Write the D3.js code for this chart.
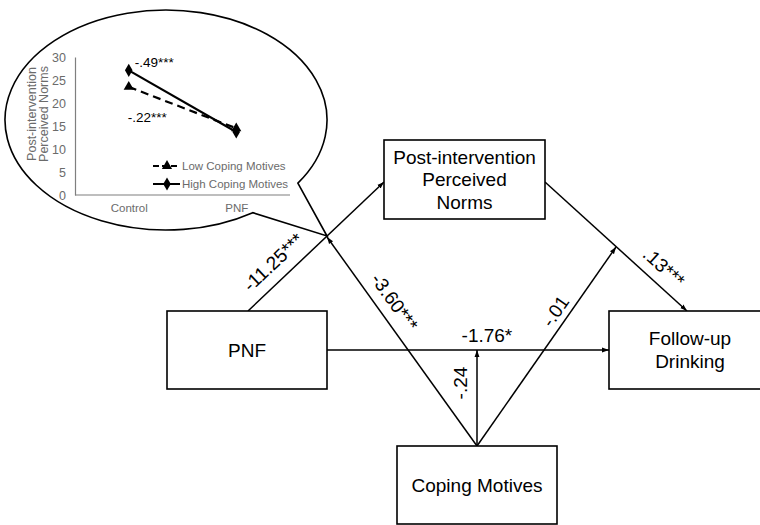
<!DOCTYPE html>
<html><head><meta charset="utf-8">
<script src="https://cdn.jsdelivr.net/npm/d3@7"></script>
<style>
html,body{margin:0;padding:0;background:#fff;}
svg{display:block;font-family:"Liberation Sans",Arial,sans-serif;}
</style></head>
<body>
<svg id="chart" width="760" height="525"></svg>
<script>
// ---------- Data ----------
const boxIds = ["norms", "pnf", "follow", "coping"];
const boxLabels = [["Post-intervention", "Perceived", "Norms"], ["PNF"], ["Follow-up", "Drinking"], ["Coping Motives"]];
const pathIds = ["pnf-norms", "pnf-follow", "norms-follow", "cop-a", "cop-c", "cop-b"];
const pathCoefficients = ["-11.25***", "-1.76*", ".13***", "-3.60***", "-.24", "-.01"];

const insetCategories = ["Control", "PNF"];
const lowCopingValues = [23.5, 14.5];
const highCopingValues = [27.1, 13.7];
const insetTicks = [0, 5, 10, 15, 20, 25, 30];
const seriesNames = ["Low Coping Motives", "High Coping Motives"];
const slopeLabels = ["-.22***", "-.49***"];

// ---------- Layout ----------
const boxLayout = {
  norms: {x0: 384, y0: 140, x1: 545, y1: 219},
  pnf: {x0: 167, y0: 311, x1: 327, y1: 389},
  follow: {x0: 609, y0: 311, x1: 775, y1: 389},
  coping: {x0: 397, y0: 446, x1: 557, y1: 524}
};
const edgeLayout = {
  "pnf-norms": {s: [248, 311], e: [384, 182], t: 0.277, d: 18},
  "pnf-follow": {s: [327, 350], e: [609, 350], t: 0.567, d: 15},
  "norms-follow": {s: [545, 182], e: [687, 311], t: 0.758, d: 17},
  "cop-a": {s: [477, 446], e: [327, 237], t: 0.642, d: -17},
  "cop-c": {s: [477, 446], e: [477, 350], t: 0.656, d: 17},
  "cop-b": {s: [477, 446], e: [616, 247], t: 0.64, d: 13}
};

const svg = d3.select("#chart");
svg.append("defs").append("marker")
  .attr("id", "arr").attr("viewBox", "0 0 10 10").attr("refX", 10).attr("refY", 5)
  .attr("markerWidth", 7).attr("markerHeight", 7).attr("markerUnits", "userSpaceOnUse")
  .attr("orient", "auto")
  .append("path").attr("d", "M0,1.5 L10,5 L0,8.5 Z").attr("fill", "#000");

// ---------- Inset bubble ----------
const E = {cx: 166, cy: 120, rx: 161, ry: 110};
const tip = [327, 236];
const ang1 = 35 * Math.PI / 180, ang2 = 57.4 * Math.PI / 180;
const p1 = [E.cx + E.rx * Math.cos(ang1), E.cy + E.ry * Math.sin(ang1)];
const p2 = [E.cx + E.rx * Math.cos(ang2), E.cy + E.ry * Math.sin(ang2)];
svg.append("path")
  .attr("d", `M${p1[0]},${p1[1]} A${E.rx},${E.ry} 0 1 0 ${p2[0]},${p2[1]} L${tip[0]},${tip[1]} Z`)
  .attr("fill", "#fff").attr("stroke", "#000").attr("stroke-width", 1.6).attr("stroke-linejoin", "miter");

const inset = svg.append("g");
const x = d3.scalePoint().domain(insetCategories).range([75, 290]).padding(0.5);
const y = d3.scaleLinear().domain([0, 30]).range([195, 57]);

const yAxis = inset.append("g").attr("transform", "translate(75,0)")
  .call(d3.axisLeft(y).tickValues(insetTicks).tickSize(0).tickPadding(9));
yAxis.select(".domain").attr("stroke", "#7f7f7f").attr("stroke-width", 1.2);
yAxis.selectAll("text").attr("fill", "#6b6b6b").attr("font-size", 12.5)
  .attr("font-family", "Liberation Sans, Arial, sans-serif");

const xAxis = inset.append("g").attr("transform", "translate(0,195)")
  .call(d3.axisBottom(x).tickSize(0).tickPadding(9));
xAxis.select(".domain").attr("stroke", "#7f7f7f").attr("stroke-width", 1.2).attr("d", "M75,0H290");
xAxis.selectAll("text").attr("fill", "#6b6b6b").attr("font-size", 11.5)
  .attr("font-family", "Liberation Sans, Arial, sans-serif");

const yTitle = inset.append("text")
  .attr("transform", "translate(38,114) rotate(-90)")
  .attr("text-anchor", "middle").attr("fill", "#6b6b6b").attr("font-size", 12.5);
yTitle.append("tspan").attr("x", 0).attr("dy", "-0.2em").text("Post-intervention");
yTitle.append("tspan").attr("x", 0).attr("dy", "1.0em").text("Perceived Norms");

const line = d3.line().x((d, i) => x(insetCategories[i])).y(d => y(d));
inset.append("path").datum(lowCopingValues).attr("d", line)
  .attr("fill", "none").attr("stroke", "#000").attr("stroke-width", 2.2).attr("stroke-dasharray", "8,5");
inset.append("path").datum(highCopingValues).attr("d", line)
  .attr("fill", "none").attr("stroke", "#000").attr("stroke-width", 2.2);

const tri = d3.symbol().type(d3.symbolTriangle).size(45);
const dia = d3.symbol().type(d3.symbolDiamond).size(50);
inset.selectAll(".lowpt").data(lowCopingValues).join("path")
  .attr("transform", (d, i) => `translate(${x(insetCategories[i])},${y(d)})`).attr("d", tri).attr("fill", "#000");
inset.selectAll(".highpt").data(highCopingValues).join("path")
  .attr("transform", (d, i) => `translate(${x(insetCategories[i])},${y(d)})`).attr("d", dia).attr("fill", "#000");

// slope labels
inset.append("text").attr("x", x(insetCategories[0]) - 1).attr("y", y(lowCopingValues[0]) + 35)
  .attr("font-size", 13.5).attr("fill", "#000").text(slopeLabels[0]);
inset.append("text").attr("x", x(insetCategories[0]) + 6).attr("y", y(highCopingValues[0]) - 3)
  .attr("font-size", 13.5).attr("fill", "#000").text(slopeLabels[1]);

// legend
const lg = inset.append("g").attr("transform", "translate(153,166)");
seriesNames.forEach((name, i) => {
  const g = lg.append("g").attr("transform", `translate(0,${i * 18})`);
  g.append("line").attr("x1", 0).attr("x2", 27).attr("y1", 0).attr("y2", 0)
    .attr("stroke", "#000").attr("stroke-width", 2)
    .attr("stroke-dasharray", i === 0 ? "6,3" : null);
  g.append("path").attr("transform", "translate(14,0)").attr("d", i === 0 ? tri : dia).attr("fill", "#000");
  g.append("text").attr("x", 29).attr("y", 0).attr("dy", "0.35em")
    .attr("font-size", 11.5).attr("fill", "#6b6b6b").text(name);
});

// ---------- Path diagram ----------
const edges = pathIds.map((id, i) => Object.assign({id, label: pathCoefficients[i]}, edgeLayout[id]));
svg.append("g").selectAll("line").data(edges).join("line")
  .attr("x1", d => d.s[0]).attr("y1", d => d.s[1])
  .attr("x2", d => d.e[0]).attr("y2", d => d.e[1])
  .attr("stroke", "#000").attr("stroke-width", 1.5).attr("marker-end", "url(#arr)");

svg.append("g").selectAll("text").data(edges).join("text")
  .attr("transform", d => {
    const dx = d.e[0] - d.s[0], dy = d.e[1] - d.s[1];
    const len = Math.hypot(dx, dy);
    const nx = dy / len, ny = -dx / len;
    const px = d.s[0] + d.t * dx + d.d * nx;
    const py = d.s[1] + d.t * dy + d.d * ny;
    let a = Math.atan2(dy, dx) * 180 / Math.PI;
    if (a > 90) a -= 180;
    if (a < -90) a += 180;
    return `translate(${px},${py}) rotate(${a})`;
  })
  .attr("text-anchor", "middle").attr("dy", "0.35em")
  .attr("font-size", 19).attr("fill", "#000").text(d => d.label);

const boxes = boxIds.map((id, i) => Object.assign({id, lines: boxLabels[i]}, boxLayout[id]));
const bg = svg.append("g").selectAll("g").data(boxes).join("g");
bg.append("rect")
  .attr("x", d => d.x0).attr("y", d => d.y0)
  .attr("width", d => d.x1 - d.x0).attr("height", d => d.y1 - d.y0)
  .attr("fill", "#fff").attr("stroke", "#000").attr("stroke-width", 1.6);
bg.each(function (d) {
  const t = d3.select(this).append("text").attr("text-anchor", "middle")
    .attr("font-size", 19).attr("fill", "#000");
  const cx = d.id === "follow" ? 690 : (d.x0 + d.x1) / 2;
  const cy = (d.y0 + d.y1) / 2;
  const lh = 22.5;
  d.lines.forEach((s, i) => {
    t.append("tspan").attr("x", cx)
      .attr("y", cy + (i - (d.lines.length - 1) / 2) * lh)
      .attr("dy", "0.35em").text(s);
  });
});
</script>
</body></html>
